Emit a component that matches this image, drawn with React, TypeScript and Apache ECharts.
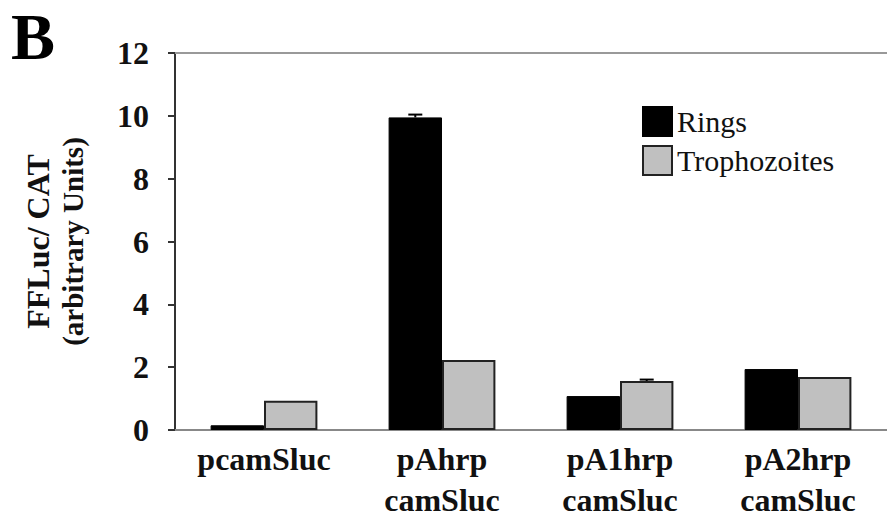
import React, { useEffect, useRef } from "react";
import * as echarts from "echarts";

const categories = ["pcamSluc", "pAhrp\ncamSluc", "pA1hrp\ncamSluc", "pA2hrp\ncamSluc"];
const ringsValues = [0.15, 9.95, 1.08, 1.94];
const trophValues = [0.93, 2.23, 1.56, 1.69];
const ringsErrors = [0, 0.09, 0, 0];
const trophErrors = [0, 0, 0.045, 0];
const yTicks = [0, 2, 4, 6, 8, 10, 12];

const SERIF = "'Liberation Serif', 'Times New Roman', serif";

function errorSeries(name: string, values: number[], errors: number[], side: number) {
  return {
    type: "custom",
    name: name + "-err",
    silent: true,
    z: 5,
    encode: { x: 0, y: 1 },
    data: values.map((v, i) => [i, v, errors[i]]),
    renderItem: (params: any, api: any) => {
      const idx = api.value(0);
      const val = api.value(1);
      const err = api.value(2);
      if (!err) return { type: "group", children: [] };
      const band = api.size([1, 0])[0];
      const offset = side * band * 0.15;
      const top = api.coord([idx, val + err]);
      const base = api.coord([idx, val]);
      const x = top[0] + offset;
      const half = 7;
      return {
        type: "group",
        children: [
          { type: "line", shape: { x1: x, y1: base[1], x2: x, y2: top[1] }, style: { stroke: "#000", lineWidth: 2 } },
          { type: "line", shape: { x1: x - half, y1: top[1], x2: x + half, y2: top[1] }, style: { stroke: "#000", lineWidth: 2 } },
        ],
      };
    },
  };
}

export default function App() {
  const ref = useRef<HTMLDivElement>(null);
  useEffect(() => {
    if (!ref.current) return;
    const chart = echarts.init(ref.current, undefined, { renderer: "svg" });
    chart.setOption({
      animation: false,
      backgroundColor: "#fff",
      title: {
        text: "B",
        left: 11,
        top: 1,
        padding: 0,
        textStyle: { fontFamily: SERIF, fontSize: 66, fontWeight: "bold", color: "#000", lineHeight: 70 },
      },
      legend: {
        data: ["Rings", "Trophozoites"],
        orient: "vertical",
        left: 642,
        top: 106,
        padding: 0,
        itemWidth: 29,
        itemHeight: 29,
        itemGap: 8,
        icon: "rect",
        textStyle: { fontFamily: SERIF, fontSize: 30, color: "#111" },
      },
      grid: { left: 175, right: -11, top: 53, bottom: 91, containLabel: false },
      xAxis: [
        {
          type: "category",
          data: categories,
          axisLine: { lineStyle: { color: "#888", width: 2 } },
          axisTick: { show: false },
          axisLabel: {
            fontFamily: SERIF,
            fontSize: 32,
            fontWeight: "bold",
            color: "#111",
            lineHeight: 41,
            margin: 8,
            interval: 0,
          },
        },
        {
          type: "category",
          data: categories,
          position: "top",
          axisLine: { lineStyle: { color: "#999", width: 2 } },
          axisTick: { show: false },
          axisLabel: { show: false },
        },
      ],
      yAxis: {
        type: "value",
        min: yTicks[0],
        max: yTicks[yTicks.length - 1],
        interval: 2,
        name: "{a|FFLuc/ CAT}\n{b|(arbitrary Units)}",
        nameLocation: "middle",
        nameRotate: 90,
        nameGap: 86,
        nameTextStyle: {
          fontFamily: SERIF,
          color: "#111",
          rich: {
            a: { fontFamily: SERIF, fontSize: 32, fontWeight: "bold", lineHeight: 38, color: "#111" },
            b: { fontFamily: SERIF, fontSize: 29, fontWeight: "bold", lineHeight: 32, color: "#111" },
          },
        },
        axisLine: { show: true, lineStyle: { color: "#333", width: 2 } },
        axisTick: { show: true, length: 7, lineStyle: { color: "#333", width: 2 } },
        splitLine: { show: false },
        axisLabel: {
          fontFamily: SERIF,
          fontSize: 32,
          fontWeight: "bold",
          color: "#111",
          margin: 26,
        },
      },
      series: [
        {
          name: "Rings",
          type: "bar",
          data: ringsValues,
          barGap: "0%",
          barCategoryGap: "40%",
          itemStyle: { color: "#000", borderColor: "#000", borderWidth: 1 },
        },
        {
          name: "Trophozoites",
          type: "bar",
          data: trophValues,
          barGap: "0%",
          barCategoryGap: "40%",
          itemStyle: { color: "#c0c0c0", borderColor: "#222", borderWidth: 2 },
        },
        errorSeries("Rings", ringsValues, ringsErrors, -1),
        errorSeries("Trophozoites", trophValues, trophErrors, 1),
      ],
    });
    return () => chart.dispose();
  }, []);
  return <div ref={ref} style={{ width: 887, height: 521, position: "absolute", left: 0, top: 0 }} />;
}
